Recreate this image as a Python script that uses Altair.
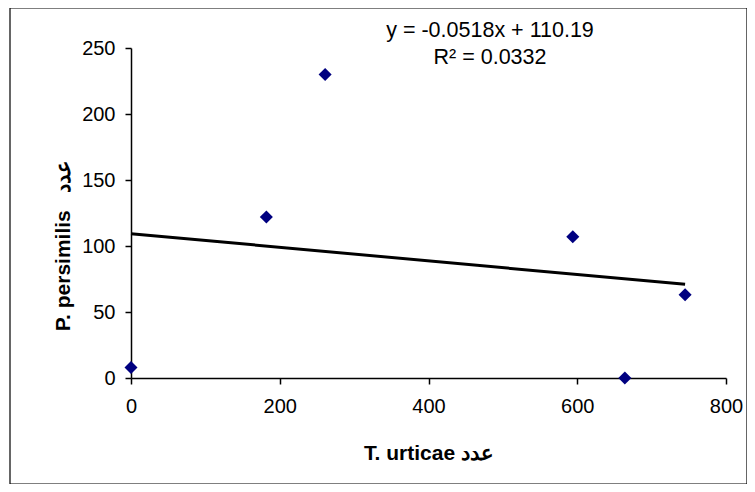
import altair as alt
import pandas as pd

# data
tu_counts = [0, 182, 261, 594, 664, 745]
pp_counts = [8, 122, 230, 107, 0, 63]

x_ticks = [0, 200, 400, 600, 800]
y_ticks = [0, 50, 100, 150, 200, 250]

eq_line1 = "y = -0.0518x + 110.19"
eq_line2 = "R² = 0.0332"

x_title = "T. urticae عدد"
y_title = "P. persimilis\u00a0\u00a0\u00a0عدد"

df = pd.DataFrame({"x": tu_counts, "y": pp_counts})

W, H = 595, 330
FONT = "Liberation Sans"

xs = alt.Scale(domain=[0, 800], nice=False, zero=False)
ys = alt.Scale(domain=[0, 250], nice=False, zero=False)

base = alt.Chart(df)

points = base.mark_point(shape="diamond", filled=True, size=170, color="#000080", opacity=1).encode(
    x=alt.X("x:Q", scale=xs,
            axis=alt.Axis(values=x_ticks, title=x_title, grid=False, titlePadding=26,
                          labelPadding=12, labelFlush=False)),
    y=alt.Y("y:Q", scale=ys,
            axis=alt.Axis(values=y_ticks, title=y_title, grid=False, titlePadding=8,
                          titleY=197, labelPadding=10, labelFlush=False)),
)

trend = base.transform_regression("x", "y").mark_line(color="black", strokeWidth=3).encode(
    x=alt.X("x:Q", scale=xs),
    y=alt.Y("y:Q", scale=ys),
)

txt1 = alt.Chart(pd.DataFrame({"t": [eq_line1]})).mark_text(
    font=FONT, fontSize=21.5, color="black", align="center", baseline="middle"
).encode(text="t:N", x=alt.value(359), y=alt.value(-17))

txt2 = alt.Chart(pd.DataFrame({"t": [eq_line2]})).mark_text(
    font=FONT, fontSize=21.5, color="black", align="center", baseline="middle"
).encode(text="t:N", x=alt.value(359), y=alt.value(10))

border = alt.Chart(pd.DataFrame({"a": [0]})).mark_rect(
    fill=None, stroke="black", strokeWidth=1.2
).encode(x=alt.value(-121), x2=alt.value(616), y=alt.value(-40), y2=alt.value(436))

chart = alt.layer(border, trend, points, txt1, txt2).properties(
    width=W, height=H,
    autosize=alt.AutoSizeParams(type="none"),
    padding={"left": 123, "top": 40, "right": 21, "bottom": 106},
    background="white",
).configure_view(stroke=None).configure_axis(
    domainColor="black", domainWidth=1.5, tickColor="black", tickWidth=1.5, tickSize=6,
    labelFont=FONT, labelFontSize=20, labelColor="black",
    titleFont=FONT, titleFontSize=21, titleFontWeight="bold", titleColor="black",
)

chart.save("out.html", embed_options={"renderer": "svg", "actions": False})
